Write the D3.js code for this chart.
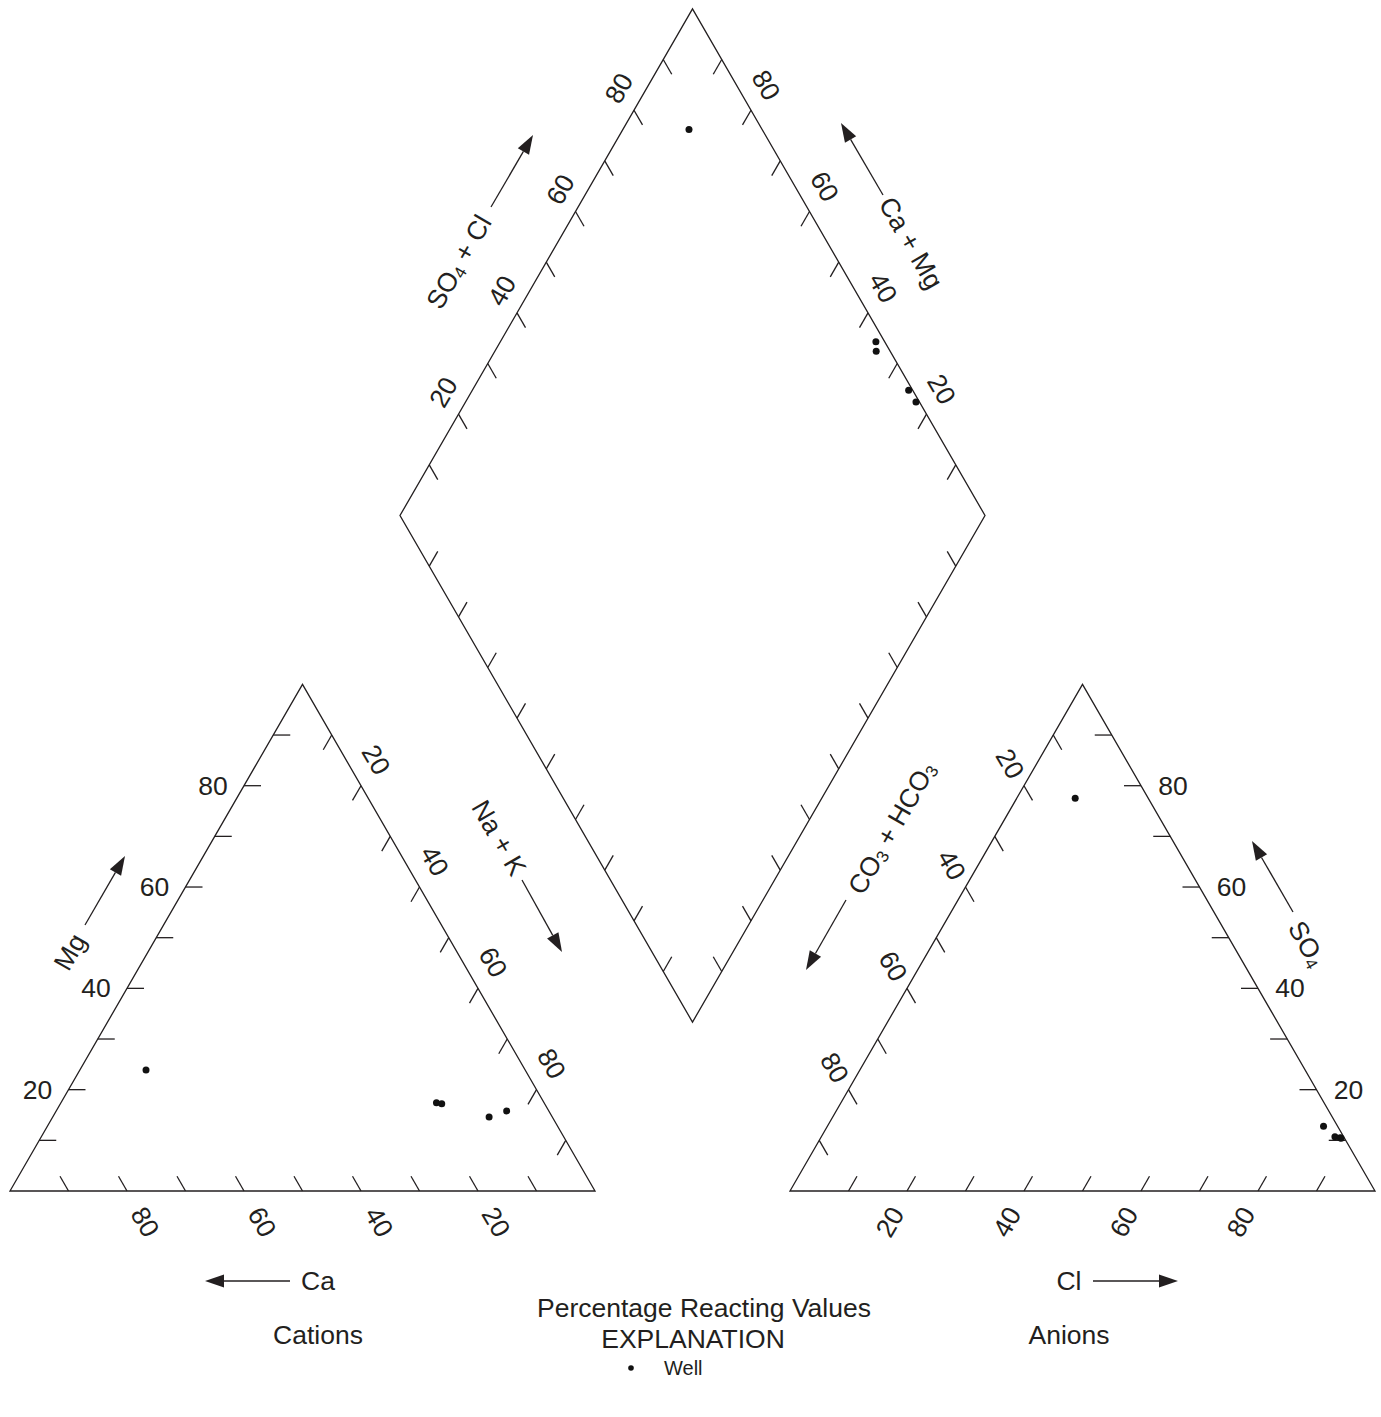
<!DOCTYPE html>
<html>
<head>
<meta charset="utf-8">
<script src="https://cdn.jsdelivr.net/npm/d3@7"></script>
<style>
  html, body { margin: 0; padding: 0; background: #fff; }
  svg { display: block; }
  text { font-family: "Liberation Sans", Arial, Helvetica, sans-serif; fill: #231f20; }
</style>
</head>
<body>
<div id="chart"></div>
<script>
// Percentage reacting values (milliequivalents) for each well sample
const sampleIds = ["Well 1", "Well 2", "Well 3", "Well 4", "Well 5"];
const caPct   = [64.8, 18.4, 17.6, 10.8, 7.2];
const mgPct   = [23.9, 17.4, 17.2, 14.6, 15.8];
const naKPct  = [11.3, 64.2, 65.2, 74.6, 77.0];
const hco3Pct = [12.5, 1.5, 2.4, 0.7, 0.6];
const so4Pct  = [77.5, 10.7, 12.8, 10.5, 10.4];
const clPct   = [10.0, 87.8, 84.8, 88.8, 89.0];

// Axis ticks every 10 percent, labelled every 20 percent
const tickValues = [10, 20, 30, 40, 50, 60, 70, 80, 90];
const labelValues = [20, 40, 60, 80];

const W = 1381, Hpx = 1417;
const side = 585;
const triH = side * Math.sqrt(3) / 2;
const baseY = 1191;
const gap = 195;
const cationX0 = 10;
const anionX0 = cationX0 + side + gap;
const diamondBottom = { x: cationX0 + side + gap / 2, y: baseY - gap * Math.sqrt(3) / 2 };

const stroke = "#231f20";
const tickLen = 17;
const fontSize = 26.5;
const s60 = Math.sqrt(3) / 2;

// Percent -> distance along a side / height
const along = d3.scaleLinear().domain([0, 100]).range([0, side]);
const up = d3.scaleLinear().domain([0, 100]).range([0, triH]);

const svg = d3.select("#chart").append("svg")
  .attr("width", W).attr("height", Hpx)
  .attr("viewBox", `0 0 ${W} ${Hpx}`);

const gFrame = svg.append("g").attr("fill", "none").attr("stroke", stroke).attr("stroke-width", 1.3);
const gText = svg.append("g");
const gPts = svg.append("g").attr("fill", "#111");

// Ternary placements
function cationXY(ca, mg, nak) {
  return [cationX0 + along(nak + mg / 2), baseY - up(mg)];
}
function anionXY(hco3, so4, cl) {
  return [anionX0 + along(cl + so4 / 2), baseY - up(so4)];
}
// c = Ca+Mg percent, s = SO4+Cl percent
function diamondXY(c, s) {
  return [diamondBottom.x + along((s - c) / 2), diamondBottom.y - up(c + s)];
}

const line = d3.line();

function drawPolygon(points) {
  gFrame.append("path").attr("d", line(points) + "Z").attr("stroke-linejoin", "miter");
}

function drawTicks(pointFn, dir) {
  tickValues.forEach(v => {
    const [x, y] = pointFn(v);
    gFrame.append("line")
      .attr("x1", x).attr("y1", y)
      .attr("x2", x + dir[0] * tickLen).attr("y2", y + dir[1] * tickLen);
  });
}

function drawLabels(pointFn, offset, angle) {
  labelValues.forEach(v => {
    const [x, y] = pointFn(v);
    gText.append("text")
      .attr("transform", `translate(${x + offset[0]},${y + offset[1]}) rotate(${angle})`)
      .attr("text-anchor", "middle")
      .attr("dominant-baseline", "central")
      .attr("font-size", fontSize)
      .text(v);
  });
}

// Title text with optional subscript parts: parts = [[text, isSub], ...]
function drawTitle(x, y, angle, parts) {
  const t = gText.append("text")
    .attr("transform", `translate(${x},${y}) rotate(${angle})`)
    .attr("text-anchor", "middle")
    .attr("dominant-baseline", "central")
    .attr("font-size", fontSize);
  let shifted = false;
  parts.forEach(([str, sub]) => {
    const ts = t.append("tspan").text(str);
    if (sub && !shifted) { ts.attr("font-size", 17).attr("dy", 6); shifted = true; }
    else if (!sub && shifted) { ts.attr("dy", -6); shifted = false; }
  });
}

function drawArrow(x1, y1, x2, y2) {
  const dx = x2 - x1, dy = y2 - y1;
  const len = Math.hypot(dx, dy);
  const ux = dx / len, uy = dy / len;
  const headL = 19, headW = 6.5;
  const bx = x2 - ux * headL, by = y2 - uy * headL;
  gFrame.append("line").attr("x1", x1).attr("y1", y1).attr("x2", bx).attr("y2", by);
  svg.append("path")
    .attr("d", line([[x2, y2], [bx - uy * headW, by + ux * headW], [bx + uy * headW, by - ux * headW]]) + "Z")
    .attr("fill", stroke).attr("stroke", "none");
}

// ---------- Cation triangle ----------
drawPolygon([cationXY(100, 0, 0), cationXY(0, 0, 100), cationXY(0, 100, 0)]);
drawTicks(v => cationXY(100 - v, v, 0), [1, 0]);            // Mg
drawTicks(v => cationXY(v, 0, 100 - v), [-0.5, -s60]);      // Ca
drawTicks(v => cationXY(0, 100 - v, v), [-0.5, s60]);       // Na + K
drawLabels(v => cationXY(100 - v, v, 0), [-31, 0], 0);
drawLabels(v => cationXY(v, 0, 100 - v), [18, 31], 60);
drawLabels(v => cationXY(0, 100 - v, v), [15, -26], 60);

drawTitle(70, 952, -60, [["Mg", false]]);
drawArrow(85, 925, 125, 856);
drawTitle(499, 838, 60, [["Na + K", false]]);
drawArrow(522, 880, 562, 952);
drawTitle(318, 1281, 0, [["Ca", false]]);
drawArrow(290, 1281, 205, 1281);

// ---------- Anion triangle ----------
drawPolygon([anionXY(100, 0, 0), anionXY(0, 0, 100), anionXY(0, 100, 0)]);
drawTicks(v => anionXY(0, v, 100 - v), [-1, 0]);            // SO4
drawTicks(v => anionXY(100 - v, 0, v), [0.5, -s60]);        // Cl
drawTicks(v => anionXY(v, 100 - v, 0), [0.5, s60]);         // CO3 + HCO3
drawLabels(v => anionXY(0, v, 100 - v), [32, 0], 0);
drawLabels(v => anionXY(100 - v, 0, v), [-17, 31], -60);
drawLabels(v => anionXY(v, 100 - v, 0), [-14, -22], 60);

drawTitle(892, 828, -60, [["CO", false], ["3", true], [" + HCO", false], ["3", true]]);
drawArrow(846, 900, 806, 970);
drawTitle(1307, 944, 60, [["SO", false], ["4", true]]);
drawArrow(1293, 912, 1252, 841);
drawTitle(1069, 1281, 0, [["Cl", false]]);
drawArrow(1093, 1281, 1178, 1281);

// ---------- Diamond ----------
drawPolygon([diamondXY(0, 0), diamondXY(100, 0), diamondXY(100, 100), diamondXY(0, 100)]);
drawTicks(v => diamondXY(100, v), [0.5, s60]);     // upper-left edge
drawTicks(v => diamondXY(v, 100), [-0.5, s60]);    // upper-right edge
drawTicks(v => diamondXY(v, 0), [0.5, -s60]);      // lower-left edge
drawTicks(v => diamondXY(0, v), [-0.5, -s60]);     // lower-right edge
drawLabels(v => diamondXY(100, v), [-15, -22], -60);
drawLabels(v => diamondXY(v, 100), [15, -25], 60);

drawTitle(459, 262, -60, [["SO", false], ["4", true], [" + Cl", false]]);
drawArrow(491, 207, 533, 135);
drawTitle(911, 243, 60, [["Ca + Mg", false]]);
drawArrow(883, 195, 841, 123);

// ---------- Sample points ----------
const r = 3.5;
sampleIds.forEach((id, i) => {
  const [cx, cy] = cationXY(caPct[i], mgPct[i], naKPct[i]);
  const [ax, ay] = anionXY(hco3Pct[i], so4Pct[i], clPct[i]);
  const [dx, dy] = diamondXY(caPct[i] + mgPct[i], so4Pct[i] + clPct[i]);
  [[cx, cy], [ax, ay], [dx, dy]].forEach(([x, y]) => {
    gPts.append("circle").attr("cx", x).attr("cy", y).attr("r", r);
  });
});

// ---------- Captions and explanation ----------
function caption(x, y, str, size) {
  gText.append("text").attr("x", x).attr("y", y)
    .attr("text-anchor", "middle").attr("dominant-baseline", "central")
    .attr("font-size", size).text(str);
}
caption(704, 1308, "Percentage Reacting Values", fontSize);
caption(318, 1335, "Cations", fontSize);
caption(1069, 1335, "Anions", fontSize);
caption(693, 1339, "EXPLANATION", fontSize);
gPts.append("circle").attr("cx", 631).attr("cy", 1368).attr("r", 2.8);
gText.append("text").attr("x", 664).attr("y", 1368)
  .attr("dominant-baseline", "central").attr("font-size", 20).text("Well");
</script>
</body>
</html>
